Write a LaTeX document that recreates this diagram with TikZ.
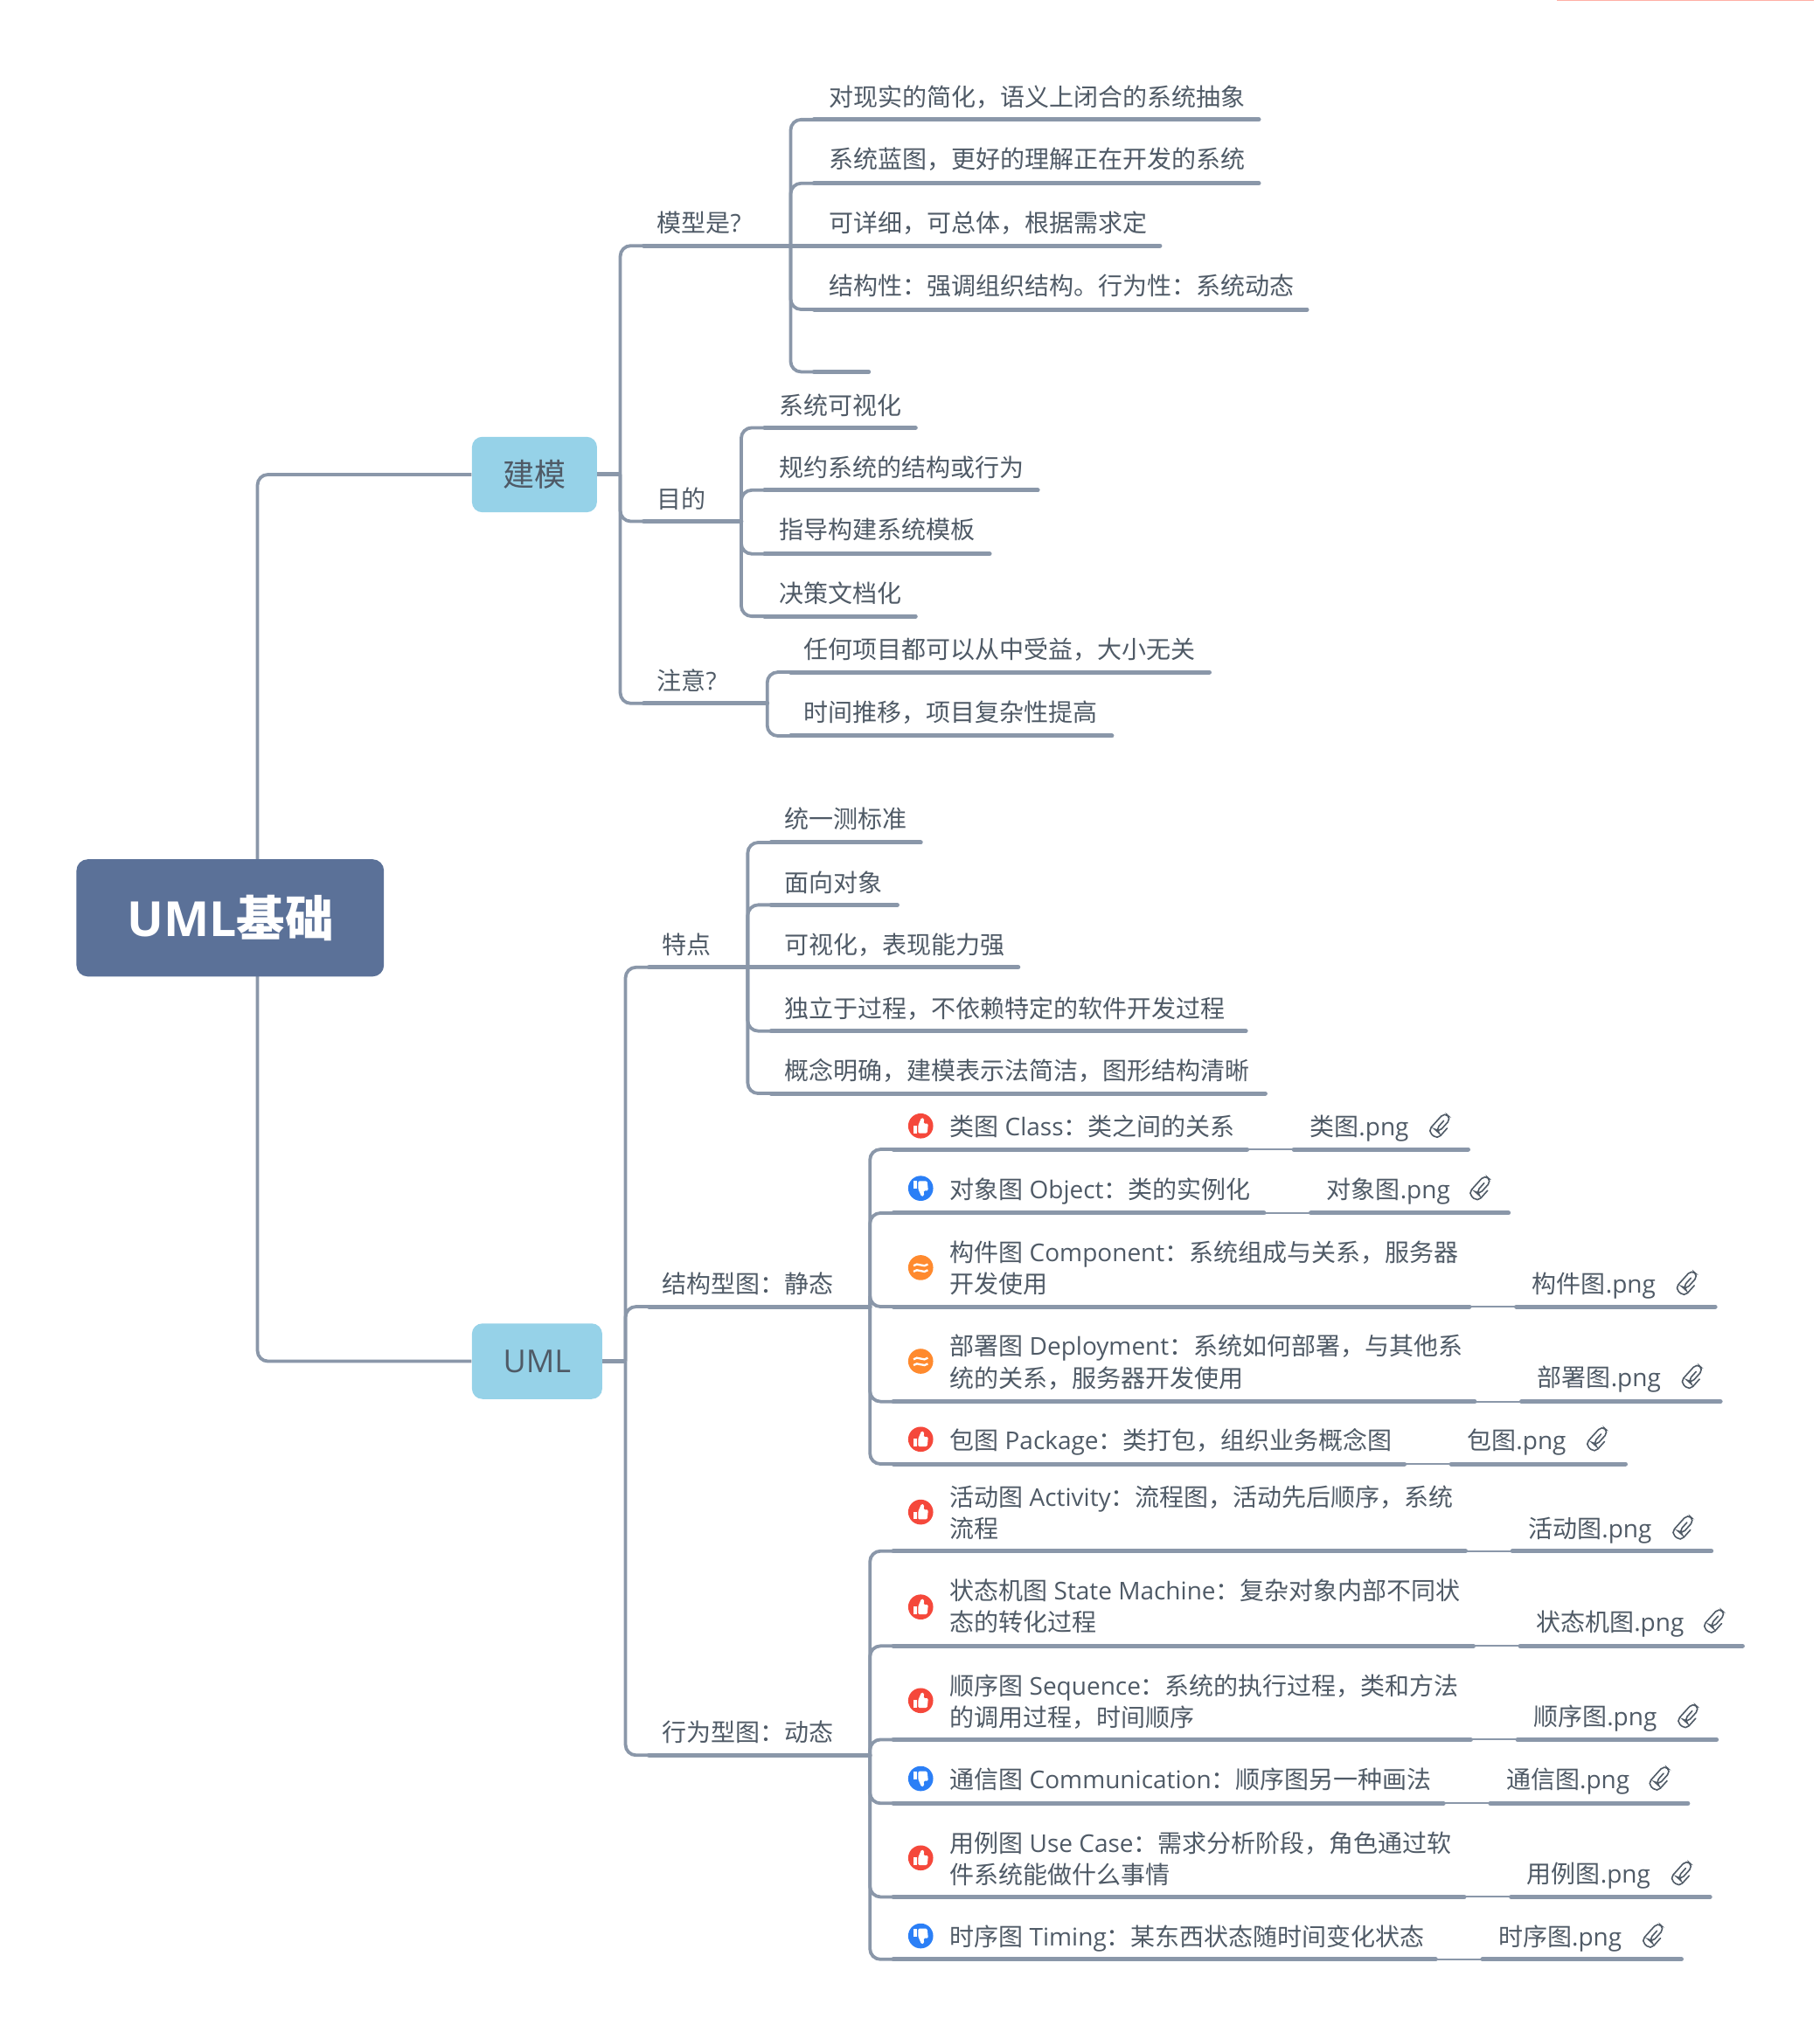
\documentclass[tikz,border=0pt]{standalone}
\usepackage{fontspec}
\setmainfont{Open Sans}
\newfontfamily\cjk{Noto Sans CJK SC}
\newcommand\zh[1]{{\cjk #1}}
\newcommand\st{\rule[-3.3pt]{0pt}{18pt}}
\definecolor{ln}{HTML}{8A97A9}
\definecolor{tx}{HTML}{4F5A66}
\definecolor{rootc}{HTML}{5B7198}
\definecolor{subc}{HTML}{96D2E8}
\definecolor{redi}{HTML}{F5483B}
\definecolor{bluei}{HTML}{2B7FF6}
\definecolor{orai}{HTML}{FF8A2E}
\definecolor{pinkl}{HTML}{FFAFA5}
\tikzset{
  branch/.style={draw=ln,line width=1.9pt,rounded corners=6pt},
  under/.style={draw=ln,line width=2.5pt,line cap=round},
  thin/.style={draw=ln,line width=1pt},
  txt/.style={anchor=west,inner sep=0pt,align=left,text=tx,font=\fontsize{14}{18.1}\selectfont,execute at begin node=\st},
  rootbox/.style={fill=rootc,rounded corners=6.5pt,inner sep=0pt,text=white,font=\fontsize{27.7}{32}\selectfont\bfseries,minimum width={236*0.7453pt},minimum height={90*0.7453pt}},
  subbox/.style={fill=subc,rounded corners=6pt,inner sep=0pt,text=tx,font=\fontsize{18}{22}\selectfont,minimum height={58*0.7453pt}},
  clipline/.style={draw=tx,line width=0.8pt,rounded corners=2.8pt,line cap=round},
  iconmark/.style={fill=white,draw=none}
}
% name, parent junction, trunk x, underline y, underline end x, text x, text y, text
\newcommand\lf[8]{%
  \coordinate (#1-s) at ({#3+18},#4);
  \coordinate (#1-e) at (#5,#4);
  \draw[branch] (#2) |- (#1-s);
  \draw[under] (#1-s) -- (#1-e);
  \node[txt] (#1) at (#6,#7) {#8};
}
% as \lf, with file label: file text x, file y, file name, clip x
\newcommand\lff[9]{%
  \coordinate (#1-s) at ({#3+18},#4);
  \coordinate (#1-e) at (#5,#4);
  \coordinate (#1-a) at ({#6-48},#4);
  \coordinate (#1-b) at ({#6-12},#4);
  \draw[branch] (#2) |- (#1-s);
  \draw[under] (#1-s) -- (#1-a);
  \draw[thin] (#1-a) -- (#1-b);
  \draw[under] (#1-b) -- (#1-e);
  \node[txt] (#1-f) at (#6,#7) {#8};
  \clipicon{#9}{#7}
}
\newcommand\clipicon[2]{%
  \begin{scope}[shift={(#1,#2)},rotate=-42]
    \draw[clipline] (4.8,-2)--(4.8,9.5)--(-4.8,9.5)--(-4.8,-9.5)--(2,-9.5)--(2,5)--(-1,5)--(-1,-4.5);
  \end{scope}
}
\newcommand\thumbup[2]{%
  \fill[redi] (#1,#2) circle[radius=9.6*0.7453pt];
  \begin{scope}[shift={(#1,#2)}]
    \fill[iconmark] (-5.2,-0.3) rectangle (-3,5.6);
    \fill[iconmark,rounded corners=0.7pt] (-2,-0.3)--(0.6,-6.4)--(2.7,-5.6)--(2.2,-1.8)--(5.8,-1.8)--(5,5.6)--(-2,5.6)--cycle;
  \end{scope}
}
\newcommand\thumbdown[2]{%
  \fill[bluei] (#1,#2) circle[radius=9.6*0.7453pt];
  \begin{scope}[shift={(#1,#2)}]
    \fill[iconmark] (-5.2,0.3) rectangle (-3,-5.6);
    \fill[iconmark,rounded corners=0.7pt] (-2,0.3)--(0.6,6.4)--(2.7,5.6)--(2.2,1.8)--(5.8,1.8)--(5,-5.6)--(-2,-5.6)--cycle;
  \end{scope}
}
\newcommand\waves[2]{%
  \fill[orai] (#1,#2) circle[radius=9.6*0.7453pt];
  \begin{scope}[shift={(#1,#2)}]
    \draw[white,line width=1.15pt] (-5.5,-1.5) .. controls (-2.5,-4.8) and (2.5,0.8) .. (5.5,-2.6);
    \draw[white,line width=1.15pt] (-5.5,3) .. controls (-2.5,-0.3) and (2.5,5.3) .. (5.5,1.9);
  \end{scope}
}
\begin{document}
\begin{tikzpicture}[x=0.7438pt,y=-0.7438pt]
\useasboundingbox (0,0) rectangle (1399,1568.3);
\fill[pinkl] (1197,0) rectangle (1395,1);

% root connectors
\coordinate (rt) at (198,661);
\coordinate (rb) at (198,751);
\node[subbox,minimum width={96*0.7453pt}] (jm) at (411,365) {\zh{建模}};
\node[subbox,minimum width={100*0.7453pt}] (uml) at (413,1047) {UML};
\draw[branch] (rt) |- (jm.west);
\draw[branch] (rb) |- (uml.west);
\node[rootbox] (root) at (177,706) {UML\zh{基础}};

% --- jianmo
\coordinate (j1) at (477,365);
\draw[under,line cap=butt] (jm.east) -- (j1);
\lf{a}{j1}{477}{189}{608}{505}{171}{\zh{模型是}?}
\lf{b}{j1}{477}{401}{570}{505}{383}{\zh{目的}}
\lf{c}{j1}{477}{541}{590}{505}{523}{\zh{注意}?}

\coordinate (ja) at (608,189);
\lf{a1}{ja}{608}{92}{968}{637}{74}{\zh{对现实的简化，语义上闭合的系统抽象}}
\lf{a2}{ja}{608}{141}{968}{637}{122}{\zh{系统蓝图，更好的理解正在开发的系统}}
\draw[under] (ja) -- (892,189);
\node[txt] (a3) at (637,171) {\zh{可详细，可总体，根据需求定}};
\lf{a4}{ja}{608}{238}{1005}{637}{219}{\zh{结构性：强调组织结构。行为性：系统动态}}
\lf{a5}{ja}{608}{286}{668}{637}{268}{}

\coordinate (jb) at (570,401);
\lf{b1}{jb}{570}{329}{704}{599}{311}{\zh{系统可视化}}
\lf{b2}{jb}{570}{377}{798}{599}{359}{\zh{规约系统的结构或行为}}
\lf{b3}{jb}{570}{426}{761}{599}{407}{\zh{指导构建系统模板}}
\lf{b4}{jb}{570}{474}{704}{599}{456}{\zh{决策文档化}}

\coordinate (jc) at (590,541);
\lf{c1}{jc}{590}{517}{930}{618}{499}{\zh{任何项目都可以从中受益，大小无关}}
\lf{c2}{jc}{590}{566}{855}{618}{547}{\zh{时间推移，项目复杂性提高}}

% --- UML
\coordinate (j2) at (481,1047);
\draw[under,line cap=butt] (uml.east) -- (j2);
\lf{d}{j2}{481}{744}{575}{509}{726}{\zh{特点}}
\lf{e}{j2}{481}{1005}{669}{509}{987}{\zh{结构型图：静态}}
\lf{g}{j2}{481}{1350}{669}{509}{1332}{\zh{行为型图：动态}}

\coordinate (jd) at (575,744);
\lf{d1}{jd}{575}{648}{708}{603}{629}{\zh{统一测标准}}
\lf{d2}{jd}{575}{696}{690}{603}{678}{\zh{面向对象}}
\draw[under] (jd) -- (783,744);
\node[txt] (d3) at (603,726) {\zh{可视化，表现能力强}};
\lf{d4}{jd}{575}{793}{958}{603}{775}{\zh{独立于过程，不依赖特定的软件开发过程}}
\lf{d5}{jd}{575}{841}{973}{603}{823}{\zh{概念明确，建模表示法简洁，图形结构清晰}}

\coordinate (je) at (669,1005);
\lff{e1}{je}{669}{884}{1129}{1007}{866}{\zh{类图}.png}{1108}
\node[txt] (e1) at (730,866) {\zh{类图} Class\zh{：类之间的关系}};
\thumbup{708}{866}
\lff{e2}{je}{669}{933}{1160}{1020}{914}{\zh{对象图}.png}{1139}
\node[txt] (e2) at (730,914) {\zh{对象图} Object\zh{：类的实例化}};
\thumbdown{708}{914}
\lff{e3}{je}{669}{1005}{1319}{1178}{987}{\zh{构件图}.png}{1298}
\node[txt] (e3) at (730,976.5) {\zh{构件图} Component\zh{：系统组成与关系，服务器}\\\st\zh{开发使用}};
\waves{708}{975}
\lff{e4}{je}{669}{1078}{1323}{1182}{1059}{\zh{部署图}.png}{1302}
\node[txt] (e4) at (730,1049) {\zh{部署图} Deployment\zh{：系统如何部署，与其他系}\\\st\zh{统的关系，服务器开发使用}};
\waves{708}{1047}
\lff{e5}{je}{669}{1126}{1250}{1128}{1107}{\zh{包图}.png}{1229}
\node[txt] (e5) at (730,1107) {\zh{包图} Package\zh{：类打包，组织业务概念图}};
\thumbup{708}{1107}

\coordinate (jg) at (669,1350);
\lff{g1}{jg}{669}{1193}{1316}{1175}{1175}{\zh{活动图}.png}{1295}
\node[txt] (g1) at (730,1165) {\zh{活动图} Activity\zh{：流程图，活动先后顺序，系统}\\\st\zh{流程}};
\thumbup{708}{1163}
\lff{g2}{jg}{669}{1266}{1340}{1181}{1247}{\zh{状态机图}.png}{1319}
\node[txt] (g2) at (730,1237) {\zh{状态机图} State Machine\zh{：复杂对象内部不同状}\\\st\zh{态的转化过程}};
\thumbup{708}{1236}
\lff{g3}{jg}{669}{1338}{1320}{1179}{1320}{\zh{顺序图}.png}{1299}
\node[txt] (g3) at (730,1310) {\zh{顺序图} Sequence\zh{：系统的执行过程，类和方法}\\\st\zh{的调用过程，时间顺序}};
\thumbup{708}{1308}
\lff{g4}{jg}{669}{1387}{1298}{1158}{1368}{\zh{通信图}.png}{1277}
\node[txt] (g4) at (730,1368) {\zh{通信图} Communication\zh{：顺序图另一种画法}};
\thumbdown{708}{1368}
\lff{g5}{jg}{669}{1459}{1315}{1174}{1441}{\zh{用例图}.png}{1294}
\node[txt] (g5) at (730,1431) {\zh{用例图} Use Case\zh{：需求分析阶段，角色通过软}\\\st\zh{件系统能做什么事情}};
\thumbup{708}{1429}
\lff{g6}{jg}{669}{1507}{1293}{1152}{1489}{\zh{时序图}.png}{1272}
\node[txt] (g6) at (730,1489) {\zh{时序图} Timing\zh{：某东西状态随时间变化状态}};
\thumbdown{708}{1489}
\end{tikzpicture}
\end{document}
